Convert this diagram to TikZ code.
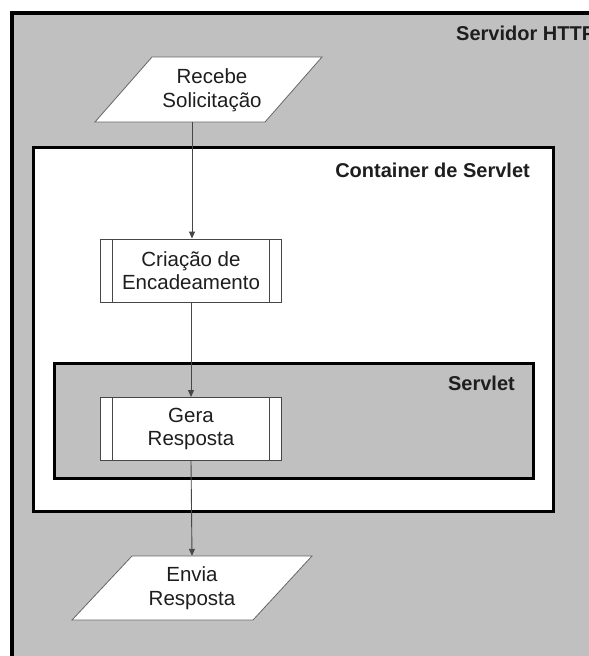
\documentclass[tikz,border=0pt]{standalone}
\usepackage{fontspec}
\setmainfont{Liberation Sans}
\usetikzlibrary{arrows.meta}
\definecolor{bggray}{RGB}{192,192,192}
\definecolor{txt}{RGB}{30,30,30}
\definecolor{edge}{RGB}{70,70,70}
\tikzset{
  frame/.style={draw=black, fill=#1, line width=3.5pt},
  ptext/.style={align=center, text=txt, font=\fontsize{20.5}{23.5}\selectfont, inner sep=0pt},
  title/.style={text=txt, font=\fontsize{20}{23}\selectfont\bfseries, inner sep=0pt},
  para/.style={draw=gray!80!black, fill=white, line width=0.8pt},
  procbox/.style={draw=edge, fill=white, line width=0.9pt, minimum width=181pt, minimum height=63pt,
    align=center, text=txt, font=\fontsize{20.5}{23.5}\selectfont, inner sep=0pt,
    path picture={
      \draw[edge, line width=0.9pt] ([xshift=12pt]path picture bounding box.north west) -- ([xshift=12pt]path picture bounding box.south west);
      \draw[edge, line width=0.9pt] ([xshift=-12pt]path picture bounding box.north east) -- ([xshift=-12pt]path picture bounding box.south east);
    }},
  flow/.style={draw=edge, line width=0.9pt, -{Triangle[length=7pt,width=6pt]}}
}
\begin{document}
\begin{tikzpicture}[x=1pt,y=-1pt]
\useasboundingbox (0,0) rectangle (589,656);
\clip (0,0) rectangle (589,656);
\fill[white] (0,0) rectangle (589,656);
% outer server box
\draw[frame=bggray] (12,13) rectangle (640,720);
\node[title, anchor=west] (srvlbl) at (456,33) {Servidor HTTP};
% container box
\draw[frame=white, line width=3pt] (33.5,147.5) rectangle (553,511);
\node[title, anchor=east] (contlbl) at (530,170) {Container de Servlet};
% servlet box
\draw[frame=bggray, line width=3pt] (54,363) rectangle (533,478);
\node[title, anchor=east] (servlbl) at (515,383) {Servlet};
% Recebe Solicitação
\draw[para] (152,57) -- (322,57) -- (265,122) -- (95,122) -- cycle;
\node[ptext, minimum height=65pt] (rec) at (212,90) {Recebe\\Solicitação};
\coordinate (recout) at (192,122);
% process boxes
\node[procbox] (cria) at (191,270.5) {Criação de\\Encadeamento};
\node[procbox] (gera) at (191,429) {Gera\\Resposta};
% Envia Resposta
\draw[para] (132,556) -- (312,556) -- (253,620) -- (72,620) -- cycle;
\node[ptext, minimum height=64pt] (env) at (192,588) {Envia\\Resposta};
% connectors
\draw[flow] (recout) -- (recout |- cria.north);
\draw[flow] (cria.south) -- (gera.north);
\draw[flow] (gera.south) -- (env.north);
\end{tikzpicture}
\end{document}
